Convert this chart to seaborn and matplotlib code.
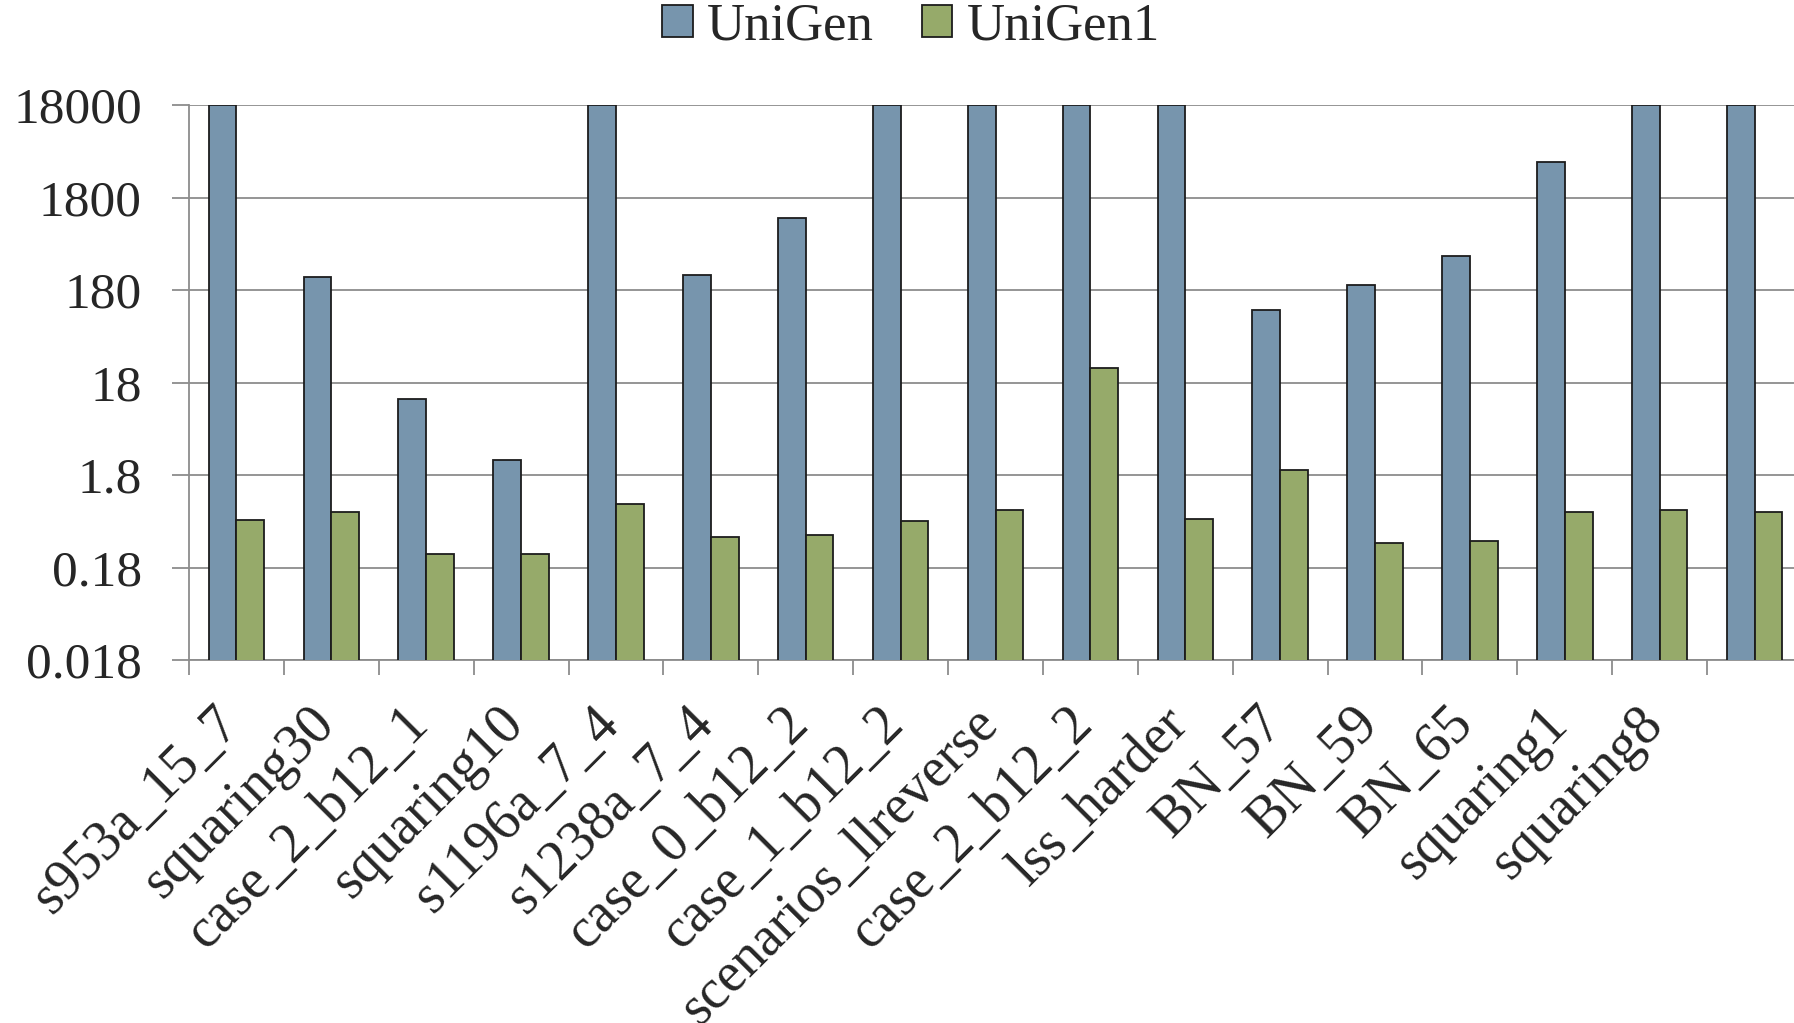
import numpy as np
import pandas as pd
import matplotlib
matplotlib.use("Agg")
import matplotlib.pyplot as plt
import matplotlib.transforms as mtransforms
from matplotlib.ticker import FixedLocator, NullLocator
import seaborn as sns

# Benchmarks and sampling times (seconds, log scale; 18000 = timeout)
benchmarks = ["s953a_15_7", "squaring30", "case_2_b12_1", "squaring10",
              "s1196a_7_4", "s1238a_7_4", "case_0_b12_2", "case_1_b12_2",
              "scenarios_llreverse", "case_2_b12_2", "lss_harder", "BN_57",
              "BN_59", "BN_65", "squaring1", "squaring8", ""]
unigen = [18000, 247, 12.0, 2.6, 18000, 260, 1080, 18000, 18000, 18000,
          18000, 109, 204, 416, 4320, 18000, 18000]
unigen1 = [0.59, 0.72, 0.25, 0.25, 0.875, 0.385, 0.40, 0.57, 0.75, 25.8,
           0.60, 2.04, 0.334, 0.351, 0.72, 0.75, 0.72]
series = ["UniGen", "UniGen1"]
y_ticks = [0.018, 0.18, 1.8, 18, 180, 1800, 18000]
y_tick_labels = ["0.018", "0.18", "1.8", "18", "180", "1800", "18000"]

keys = [f"b{i}" for i in range(len(benchmarks))]
df = pd.DataFrame({
    "bench": keys * 2,
    "tool": [series[0]] * len(keys) + [series[1]] * len(keys),
    "time": unigen + unigen1,
})

sns.set_style("white")
plt.rcParams["font.family"] = ["Liberation Serif", "DejaVu Serif"]
FS = 37
GRID = "#8c8c8c"

W, H = 1794, 1023
fig = plt.figure(figsize=(W / 100, H / 100), dpi=100)
ax = fig.add_axes([189 / W, 1 - 660 / H, 1613 / W, 555 / H])

sns.barplot(data=df, x="bench", y="time", hue="tool", order=keys,
            hue_order=series, palette=["#7795ad", "#96aa6a"],
            width=0.585, gap=0, edgecolor="#1c1c1c",
            linewidth=1.3, saturation=1, ax=ax, zorder=3)

ax.set_yscale("log", nonpositive="clip")
ax.set_ylim(0.018, 18000)
ax.set_xlim(-0.5, len(keys) - 0.5)
ax.yaxis.set_major_locator(FixedLocator(y_ticks))
ax.yaxis.set_minor_locator(NullLocator())
ax.set_yticklabels(y_tick_labels, fontsize=FS)
ax.yaxis.grid(True, color=GRID, linewidth=1.3, zorder=0)
ax.set_axisbelow(True)
ax.tick_params(axis="y", which="major", length=12, width=1.3, color=GRID,
               pad=22, left=True)

ax.xaxis.set_major_locator(FixedLocator(range(len(keys))))
ax.xaxis.set_minor_locator(FixedLocator(np.arange(-0.5, len(keys), 1.0)))
ax.set_xticklabels(benchmarks, fontsize=40, rotation=45, ha="right",
                   va="center", rotation_mode="anchor")
ax.tick_params(axis="x", which="major", length=0, pad=40)
ax.tick_params(axis="x", which="minor", length=11, width=1.3, color=GRID,
               bottom=True)
shift = mtransforms.ScaledTranslation(-5 / 100, 0, fig.dpi_scale_trans)
for lbl in ax.get_xticklabels():
    lbl.set_transform(lbl.get_transform() + shift)

for side in ["top", "right"]:
    ax.spines[side].set_visible(False)
for side in ["left", "bottom"]:
    ax.spines[side].set_color(GRID)
    ax.spines[side].set_linewidth(1.3)

ax.set_xlabel("")
ax.set_ylabel("")

handles, labels = ax.get_legend_handles_labels()
ax.get_legend().remove()
fig.legend(handles, labels, loc="center", bbox_to_anchor=(911 / W, 1 - 27 / H),
           ncol=2, frameon=False, fontsize=38, handlelength=0.58,
           handleheight=0.56, handletextpad=0.27, columnspacing=0.9,
           borderpad=0, borderaxespad=0)

fig.savefig("out.png", dpi=100)
